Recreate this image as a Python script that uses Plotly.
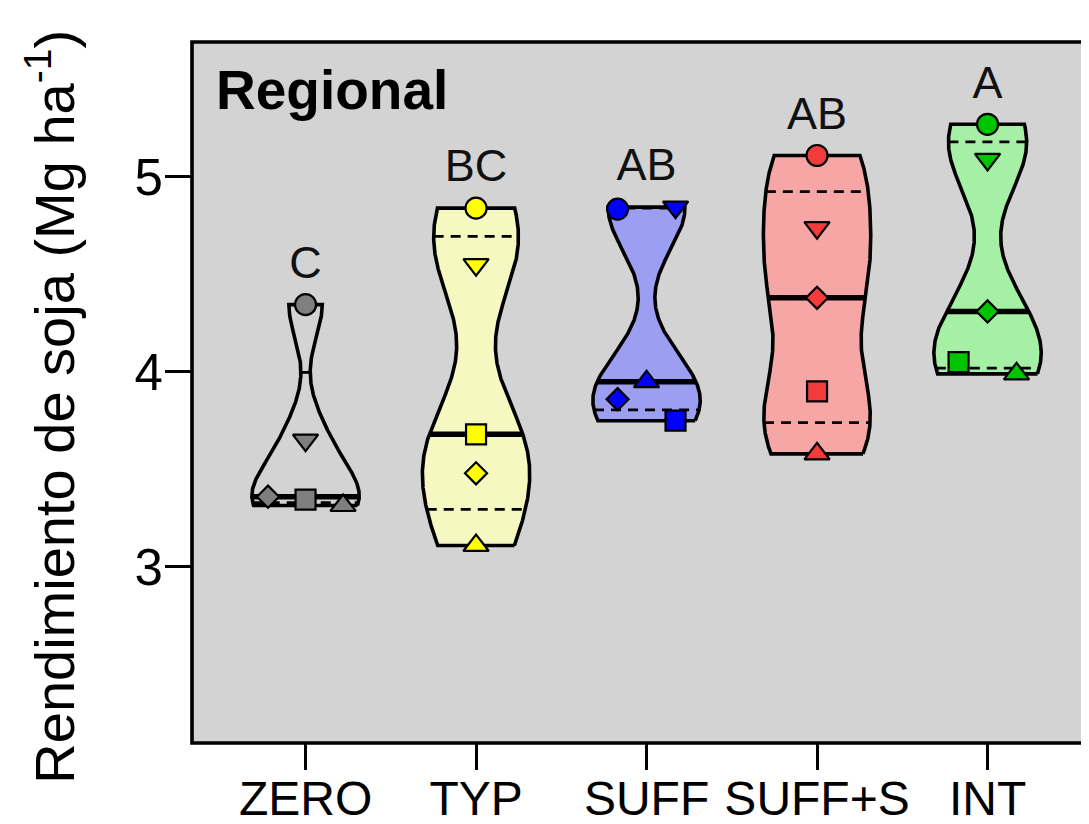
import numpy as np
import plotly.graph_objects as go

# ---------------- data ----------------
categories = ["ZERO", "TYP", "SUFF", "SUFF+S", "INT"]
# values per site (order: circle, triangle-down, diamond, square, triangle-up)
zero_vals   = [4.345, 3.65, 3.36, 3.345, 3.315]
typ_vals    = [4.84, 4.55, 3.48, 3.68, 3.11]
suff_vals   = [4.835, 4.845, 3.86, 3.75, 3.95]
suffs_vals  = [5.11, 4.74, 4.38, 3.90, 3.58]
int_vals    = [5.27, 5.09, 4.31, 4.05, 3.99]
letters     = ["C", "BC", "AB", "AB", "A"]
y_ticks     = [3, 4, 5]

# horizontal dodge of points (category units)
zero_dodge  = [0, 0, -0.22, 0, 0.22]
typ_dodge   = [0, 0, 0, 0, 0]
suff_dodge  = [-0.17, 0.17, -0.17, 0.17, 0]
suffs_dodge = [0, 0, 0, 0, 0]
int_dodge   = [0, 0, 0, -0.17, 0.17]

groups = [zero_vals, typ_vals, suff_vals, suffs_vals, int_vals]
dodges = [zero_dodge, typ_dodge, suff_dodge, suffs_dodge, int_dodge]

# ---------------- styles ----------------
site_symbols = ["circle", "triangle-down", "diamond", "square", "triangle-up"]
site_sizes = [21, 22, 17, 20, 22]
point_colors = ["#7f7f7f", "#ffff00", "#0000ff", "#f23c3c", "#00c400"]
fill_colors = ["rgba(0,0,0,0)", "#f6f8c2", "#9c9ef2", "#f7a6a6", "#a6f0a6"]
violin_width = 0.63
bw_factor = 0.40          # kernel bandwidth relative to the sample SD
FONT = "Liberation Sans, Arial, sans-serif"

fig = go.Figure()

for i, vals in enumerate(groups):
    v = np.asarray(vals, float)
    bw = bw_factor * np.std(v, ddof=1)
    grid = np.linspace(v.min(), v.max(), 512)
    dens = np.exp(-0.5 * ((grid[:, None] - v[None, :]) / bw) ** 2).sum(axis=1)
    half = (violin_width / 2) * dens / dens.max()
    xs = np.concatenate([i + half, (i - half)[::-1], [i + half[0]]])
    ys = np.concatenate([grid, grid[::-1], [grid[0]]])
    fig.add_trace(go.Scatter(x=xs, y=ys, mode="lines", fill="toself",
                             fillcolor=fill_colors[i],
                             line=dict(color="black", width=3.6),
                             hoverinfo="skip", showlegend=False))
    # quartile lines (type-6 quantiles of the data)
    qs = np.quantile(v, [0.25, 0.5, 0.75], method="weibull")
    for k, q in enumerate(qs):
        h = np.interp(q, grid, half)
        if k == 1:
            ln = dict(color="black", width=5.5)
        else:
            ln = dict(color="black", width=2.8, dash="10px,7px")
        fig.add_trace(go.Scatter(x=[i - h, i + h], y=[q, q], mode="lines",
                                 line=ln, hoverinfo="skip", showlegend=False))

for i, vals in enumerate(groups):
    fig.add_trace(go.Scatter(
        x=[i + d for d in dodges[i]], y=vals, mode="markers",
        marker=dict(symbol=site_symbols, size=site_sizes, color=point_colors[i],
                    opacity=1, line=dict(color="black", width=2.2)),
        showlegend=False, hoverinfo="y"))

# significance letters
fig.add_trace(go.Scatter(
    x=list(range(len(categories))), y=[max(g) + 0.195 for g in groups],
    mode="text", text=letters, textposition="middle center",
    textfont=dict(family=FONT, size=45, color="#111111"),
    showlegend=False, hoverinfo="skip"))

PX_PER_CAT = 170.5
PLOT_W = 1089 - 184
fig.update_layout(
    template="none",
    width=1089, height=824,
    margin=dict(l=184, r=0, t=34, b=89, autoexpand=False),
    paper_bgcolor="white", plot_bgcolor="#d3d3d3",
    font=dict(family=FONT, color="black"),
    xaxis=dict(range=[-0.666, -0.666 + PLOT_W / PX_PER_CAT],
               tickvals=list(range(len(categories))), automargin=False,
               ticktext=categories, showgrid=False, zeroline=False,
               showline=False, ticks="outside", ticklen=26, tickwidth=2.5,
               tickcolor="black", ticklabelstandoff=-13,
               tickfont=dict(family=FONT, size=48, color="black")),
    yaxis=dict(range=[2.097, 5.692], tickvals=y_ticks, showgrid=False,
               zeroline=False, showline=False, automargin=False,
               ticks="outside", ticklen=26, tickwidth=2.5,
               tickcolor="black", ticklabelstandoff=-8,
               tickfont=dict(family=FONT, size=51, color="black")),
    shapes=[dict(type="rect", xref="paper", yref="paper", x0=0, x1=1.1,
                 y0=0, y1=1, line=dict(color="black", width=3.6),
                 fillcolor="rgba(0,0,0,0)", layer="above")],
    annotations=[
        dict(text="<b>Regional</b>", xref="paper", yref="paper",
             x=0.0243, y=0.931, xanchor="left", yanchor="middle",
             showarrow=False, font=dict(family=FONT, size=55, color="black")),
        dict(text="Rendimiento de soja (Mg ha<sup>-1</sup>)", xref="paper",
             yref="paper", x=-0.1556, y=0.48, xanchor="center",
             yanchor="middle", textangle=-90, showarrow=False,
             font=dict(family=FONT, size=56, color="black")),
    ],
)

fig.write_html("out.html")
